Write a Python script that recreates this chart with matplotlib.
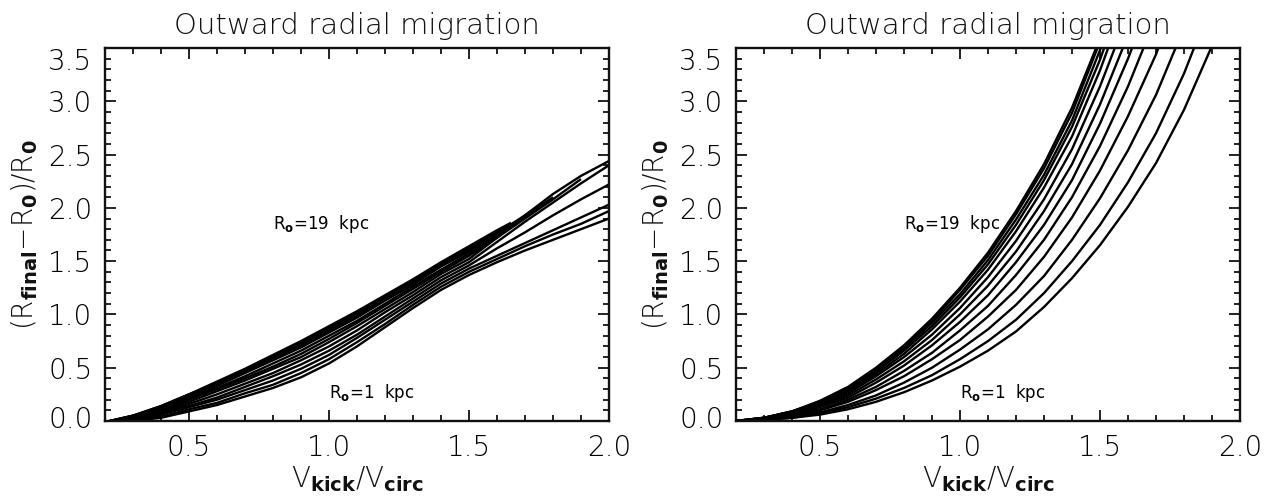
import matplotlib
matplotlib.use("Agg")
import matplotlib.pyplot as plt
from matplotlib.ticker import MultipleLocator, FixedLocator
from matplotlib.transforms import ScaledTranslation

plt.rcParams['font.family'] = ['DejaVu Sans']
plt.rcParams['mathtext.default'] = 'regular'

# ---------------- data ----------------
v_grid = [0.2, 0.3, 0.4, 0.5, 0.6, 0.7, 0.8, 0.9, 1.0, 1.1,
          1.2, 1.3, 1.4, 1.5, 1.6, 1.7, 1.8, 1.9, 2.0]

# Left panel: curves R0 = 1 ... 19 kpc (bottom -> top at low V)
left_c1 = [-0.02, 0.00, 0.03, 0.09, 0.15, 0.23, 0.31, 0.41, 0.54, 0.70, 0.88, 1.06, 1.23, 1.37, 1.49, 1.60, 1.70, 1.80, 1.90]
left_c2 = [-0.02, 0.01, 0.04, 0.11, 0.17, 0.26, 0.34, 0.45, 0.58, 0.74, 0.91, 1.09, 1.26, 1.40, 1.52, 1.64, 1.75, 1.85, 1.97]
left_c3 = [-0.02, 0.01, 0.06, 0.13, 0.20, 0.29, 0.38, 0.49, 0.62, 0.78, 0.95, 1.12, 1.29, 1.43, 1.55, 1.67, 1.79, 1.91, 2.03]
left_c4 = [-0.02, 0.02, 0.07, 0.14, 0.22, 0.32, 0.42, 0.53, 0.66, 0.81, 0.98, 1.15, 1.32, 1.46, 1.62, 1.77, 1.93, 2.08, 2.22]
left_c5 = [-0.02, 0.02, 0.08, 0.16, 0.25, 0.35, 0.45, 0.57, 0.70, 0.85, 1.02, 1.18, 1.35, 1.49, 1.68, 1.87, 2.05, 2.23, 2.40]
left_c6 = [-0.01, 0.03, 0.09, 0.18, 0.28, 0.38, 0.49, 0.60, 0.74, 0.89, 1.05, 1.21, 1.38, 1.52, 1.72, 1.93, 2.13, 2.30, 2.44]
left_c7 = [-0.01, 0.03, 0.10, 0.20, 0.30, 0.40, 0.51, 0.63, 0.77, 0.92, 1.08, 1.24, 1.40, 1.55, 1.72, 1.90, 2.08, 2.27]
left_c8 = [-0.01, 0.04, 0.11, 0.21, 0.31, 0.42, 0.54, 0.66, 0.80, 0.94, 1.10, 1.26, 1.42, 1.57, 1.74, 1.92, 2.10]
left_c9 = [-0.01, 0.04, 0.12, 0.22, 0.33, 0.45, 0.57, 0.69, 0.83, 0.97, 1.13, 1.28, 1.45, 1.59, 1.76, 1.93]
left_c10 = [-0.01, 0.04, 0.13, 0.23, 0.35, 0.46, 0.59, 0.71, 0.85, 0.99, 1.15, 1.30, 1.46, 1.61, 1.76]
left_c11 = [-0.01, 0.05, 0.13, 0.24, 0.36, 0.47, 0.60, 0.73, 0.87, 1.01, 1.16, 1.31, 1.47, 1.62, 1.77]
left_c12 = [-0.01, 0.05, 0.14, 0.25, 0.36, 0.48, 0.61, 0.74, 0.88, 1.02, 1.17, 1.32, 1.48, 1.63, 1.78]
left_c13 = [-0.01, 0.05, 0.14, 0.25, 0.37, 0.49, 0.62, 0.75, 0.89, 1.03, 1.18, 1.33, 1.49, 1.64, 1.79]
# last (off-grid) end points of the curves that stop early, (v, value); None = no extra point
left_tails = [None, None, None, None, None, None, None, None,
              (1.75, 2.02), (1.65, 1.83), (1.65, 1.84), (1.65, 1.85), (1.65, 1.86)]

# Right panel: curves R0 = 1 ... 19 kpc (bottom -> top)
right_c1 = [0.0, 0.01, 0.03, 0.06, 0.11, 0.18, 0.27, 0.38, 0.51, 0.66, 0.84, 1.07, 1.34, 1.65, 2.01, 2.42, 2.92, 3.52, 4.20]
right_c2 = [0.0, 0.01, 0.03, 0.07, 0.13, 0.21, 0.31, 0.43, 0.58, 0.75, 0.95, 1.20, 1.50, 1.84, 2.24, 2.70, 3.26, 3.93]
right_c3 = [0.0, 0.01, 0.04, 0.08, 0.15, 0.24, 0.36, 0.50, 0.67, 0.86, 1.09, 1.36, 1.70, 2.09, 2.54, 3.06, 3.69]
right_c4 = [0.0, 0.02, 0.05, 0.10, 0.18, 0.29, 0.42, 0.58, 0.76, 0.98, 1.23, 1.54, 1.91, 2.35, 2.86, 3.44, 4.16]
right_c5 = [0.0, 0.02, 0.06, 0.11, 0.20, 0.32, 0.47, 0.64, 0.85, 1.08, 1.37, 1.70, 2.10, 2.58, 3.14, 3.79]
right_c6 = [0.0, 0.02, 0.06, 0.13, 0.22, 0.36, 0.52, 0.71, 0.93, 1.18, 1.49, 1.84, 2.26, 2.79, 3.40, 4.09]
right_c7 = [0.0, 0.02, 0.07, 0.14, 0.24, 0.39, 0.56, 0.76, 1.00, 1.27, 1.59, 1.97, 2.41, 2.97, 3.62]
right_c8 = [0.0, 0.02, 0.07, 0.15, 0.26, 0.42, 0.60, 0.81, 1.06, 1.35, 1.69, 2.08, 2.55, 3.14, 3.82]
right_c9 = [0.0, 0.03, 0.08, 0.16, 0.28, 0.44, 0.63, 0.86, 1.12, 1.42, 1.78, 2.19, 2.67, 3.29, 4.01]
right_c10 = [0.0, 0.03, 0.08, 0.16, 0.29, 0.46, 0.66, 0.89, 1.16, 1.47, 1.84, 2.26, 2.76, 3.39, 4.13]
right_c11 = [0.0, 0.03, 0.09, 0.17, 0.30, 0.48, 0.68, 0.92, 1.19, 1.51, 1.89, 2.31, 2.82, 3.48, 4.23]
right_c12 = [0.0, 0.03, 0.09, 0.18, 0.31, 0.49, 0.70, 0.94, 1.23, 1.55, 1.94, 2.37, 2.89, 3.56]
right_c13 = [0.0, 0.03, 0.09, 0.19, 0.32, 0.50, 0.71, 0.96, 1.25, 1.58, 1.97, 2.41, 2.94, 3.59]

left_curves = [left_c1, left_c2, left_c3, left_c4, left_c5, left_c6, left_c7,
               left_c8, left_c9, left_c10, left_c11, left_c12, left_c13]
right_curves = [right_c1, right_c2, right_c3, right_c4, right_c5, right_c6, right_c7,
                right_c8, right_c9, right_c10, right_c11, right_c12, right_c13]

title_text = "Outward radial migration"
xlabel_text = r"V$_{\mathbf{kick}}$/V$_{\mathbf{circ}}$"
ylabel_text = r"(R$_{\mathbf{final}}$$-$R$_{\mathbf{0}}$)/R$_{\mathbf{0}}$"
label_top = r"R$_{\mathbf{o}}$=19  kpc"
label_bot = r"R$_{\mathbf{o}}$=1  kpc"
x_major = [0.5, 1.0, 1.5, 2.0]
y_major = [0.0, 0.5, 1.0, 1.5, 2.0, 2.5, 3.0, 3.5]

# ---------------- figure ----------------
fig = plt.figure(figsize=(12.69, 5.01), dpi=100)
W, H = 1269.0, 501.0
ax_boxes = [
    [105 / W, 1 - 421 / H, (609 - 105) / W, (421 - 48) / H],
    [736 / W, 1 - 421 / H, (1240 - 736) / W, (421 - 48) / H],
]

panels = [(left_curves, left_tails), (right_curves, [None] * 13)]
thin = 'light'

for box, (curves, tails) in zip(ax_boxes, panels):
    ax = fig.add_axes(box)
    for vals, tail in zip(curves, tails):
        xs = list(v_grid[:len(vals)])
        ys = list(vals)
        if tail is not None:
            xs.append(tail[0])
            ys.append(tail[1])
        ax.plot(xs, ys, color='black', lw=1.7, solid_capstyle='butt',
                solid_joinstyle='round')
    ax.set_xlim(0.2, 2.0)
    ax.set_ylim(0.0, 3.5)
    ax.xaxis.set_major_locator(FixedLocator(x_major))
    ax.xaxis.set_minor_locator(MultipleLocator(0.1))
    ax.yaxis.set_major_locator(FixedLocator(y_major))
    ax.yaxis.set_minor_locator(MultipleLocator(0.1))
    ax.set_xticklabels([f"{t:.1f}" for t in x_major], fontweight=thin)
    ax.set_yticklabels([f"{t:.1f}" for t in y_major], fontweight=thin)
    ax.tick_params(which='both', direction='in', top=True, right=True,
                   color='#111111', width=1.3)
    ax.tick_params(which='major', length=8, labelsize=20, pad=9)
    ax.tick_params(which='minor', length=4)
    for sp in ax.spines.values():
        sp.set_linewidth(1.7)
        sp.set_color('#111111')
    # shift extreme y labels like the reference
    ylabs = ax.get_yticklabels()
    ylabs[0].set_transform(ylabs[0].get_transform() +
                           ScaledTranslation(0, 4 / 100, fig.dpi_scale_trans))
    ylabs[-1].set_transform(ylabs[-1].get_transform() +
                            ScaledTranslation(0, -11 / 100, fig.dpi_scale_trans))
    ax.set_title(title_text, fontsize=21, pad=10, color='#111111', fontweight=thin)
    ax.set_xlabel(xlabel_text, fontsize=20, labelpad=2, color='#111111', fontweight=thin)
    ax.set_ylabel(ylabel_text, fontsize=20, labelpad=6, color='#111111', fontweight=thin)
    ax.text(0.80, 1.85, label_top, fontsize=12, ha='left', va='center')
    ax.text(1.0, 0.26, label_bot, fontsize=12, ha='left', va='center')

fig.savefig("out.png", dpi=100, facecolor='white')
